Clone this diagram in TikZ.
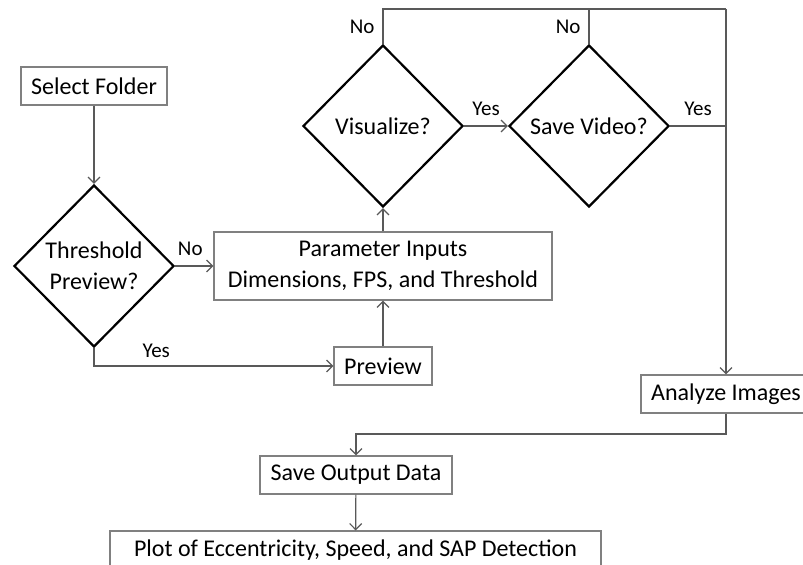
\documentclass[tikz,border=0pt]{standalone}
\usepackage{fontspec}
\setmainfont{Carlito}
\usetikzlibrary{shapes.geometric,arrows.meta}
\definecolor{linegray}{RGB}{89,89,89}
\definecolor{boxgray}{RGB}{128,128,128}
\begin{document}
\begin{tikzpicture}[x=0.5pt, y=-0.5pt,
font=\fontsize{12}{15.5}\selectfont,
box/.style={draw=boxgray, line width=0.6pt, minimum height=19pt, inner sep=1pt, align=center},
decide/.style={diamond, draw=black, line width=1.1pt, minimum width=80pt, minimum height=81pt, inner sep=0pt, align=center},
plain/.style={draw=linegray, line width=0.6pt},
line/.style={plain, -{Straight Barb[length=3pt,width=6pt]}},
lbl/.style={font=\fontsize{10.5}{12}\selectfont, inner sep=1pt}]
\useasboundingbox (0,0) rectangle (803,564);
\clip (0,0) rectangle (803,564);
\node[box, minimum width=73pt] (folder) at (94,86) {Select Folder};
\node[decide] (thresh) at (94,266) {Threshold\\Preview?};
\node[box, minimum width=169pt, minimum height=34pt] (param) at (383,266) {Parameter Inputs\\Dimensions, FPS, and Threshold};
\node[box, minimum width=49pt] (prev) at (383,366) {Preview};
\node[decide] (vis) at (383,126) {Visualize?};
\node[decide] (save) at (589,126) {Save Video?};
\node[box, minimum width=85pt] (ana) at (726,394) {Analyze Images};
\node[box, minimum width=96pt] (out) at (356,475) {Save Output Data};
\node[box, minimum width=245.5pt] (plot) at (355.5,550) {Plot of Eccentricity, Speed, and SAP Detection};
\coordinate (loop) at (726,9);
\coordinate (join) at (726,434);
\draw[line] (folder) -- (thresh);
\draw[line] (thresh) -- node[lbl, above=4pt, xshift=-2pt]{No} (param);
\draw[line] (thresh.south) |- node[lbl, pos=0.63, above=3pt]{Yes} (prev);
\draw[line] (prev) -- (param);
\draw[line] (param) -- (vis);
\draw[line] (vis) -- node[lbl, above=4pt]{Yes} (save);
\draw[plain] (vis.north) -- node[lbl, left=3pt]{No} (vis.north |- loop) -- (loop);
\draw[plain] (save.north) -- node[lbl, left=3pt]{No} (save.north |- loop);
\draw[plain] (save.east) -- node[lbl, above=4pt]{Yes} (save.east -| loop);
\draw[line] (loop) -- (ana.north);
\draw[line] (ana.south) -- (join) -| (out.north);
\draw[line] (out) -- (plot);
\end{tikzpicture}
\end{document}
